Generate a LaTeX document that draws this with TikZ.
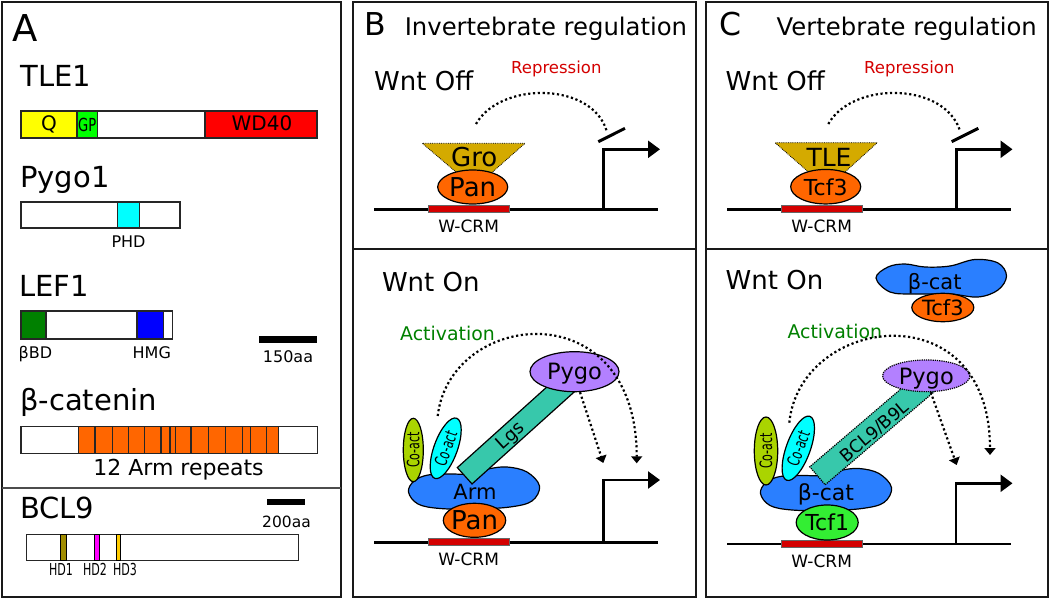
\documentclass[tikz,border=0pt]{standalone}
\usepackage{fontspec}
\setmainfont{DejaVu Sans}
\usetikzlibrary{positioning,arrows.meta,shapes.geometric}

\definecolor{qyellow}{HTML}{FFFF00}
\definecolor{gpgreen}{HTML}{00FF00}
\definecolor{wdred}{HTML}{FF0000}
\definecolor{phdcyan}{HTML}{00FFFF}
\definecolor{bbdgreen}{HTML}{008000}
\definecolor{hmgblue}{HTML}{0000FF}
\definecolor{armorange}{HTML}{FF6600}
\definecolor{hdolive}{HTML}{A08C00}
\definecolor{hdpink}{HTML}{FF00FF}
\definecolor{hdgold}{HTML}{FFCC00}
\definecolor{grogold}{HTML}{D4AA00}
\definecolor{crmred}{HTML}{D40000}
\definecolor{pygolilac}{HTML}{B380FF}
\definecolor{lgsteal}{HTML}{37C8AB}
\definecolor{coactlime}{HTML}{AAD400}
\definecolor{catblue}{HTML}{2A7FFF}
\definecolor{tcfgreen}{HTML}{33EE33}
\definecolor{repred}{HTML}{D40000}
\definecolor{actgreen}{HTML}{008000}

\newcommand{\fs}[1]{\fontsize{#1}{#1}\selectfont}
\newcommand{\squeezed}[2]{\scalebox{#1}[1]{#2}}

\begin{document}
\begin{tikzpicture}[x=1pt,y=-1pt,
    panel/.style={draw=black!90,line width=2pt},
    domainbar/.style={draw=black!85,line width=1.4pt},
    gene/.style={anchor=base west,inner sep=0pt,font=\fs{29}},
    tag/.style={anchor=base,inner sep=0pt,font=\fs{16}},
    paneltag/.style={anchor=base west,inner sep=0pt,font=\fs{31.5}},
    heading/.style={anchor=base west,inner sep=0pt,font=\fs{24.3}},
    wntstate/.style={anchor=base west,inner sep=0pt,font=\fs{26}},
    protein/.style={ellipse,draw=black,line width=1.2pt,inner sep=0pt},
    ptext/.style={inner sep=0pt,text depth=0pt},
    dna/.style={line width=2.5pt},
    crm/.style={fill=crmred,draw=black!60,line width=0.6pt,minimum width=80.7pt,minimum height=7pt,inner sep=0pt},
    crmlabel/.style={inner sep=0pt,font=\fs{17}},
    dotline/.style={line width=2.2pt,dash pattern=on 2.2pt off 2.6pt},
    actarrow/.style={dotline,-{Triangle[length=7pt,width=11pt]}},
    tss/.style={line width=2.5pt,-{Triangle[length=12pt,width=17pt]}},
    repbar/.style={line width=3pt},
    cofactor/.style={draw=black,line width=1.2pt,fill=lgsteal,rectangle,inner sep=0pt},
]
\useasboundingbox (0,0) rectangle (1050,599);

% panel frames
\draw[panel] (2,2) rectangle (341,597);
\draw[panel] (353,2) rectangle (696,597);
\draw[panel] (706,2) rectangle (1047.5,597);
\draw[panel] (353,248.5) -- (696,248.5);
\draw[panel] (706,248.5) -- (1047.5,248.5);
\draw[black!70,line width=1.2pt] (2,488) -- (341,488);

%%%% A: domain maps
\node[paneltag,font=\fs{37}] (labA) at (12.5,42) {A};

% TLE1
\node[gene] (tle1) at (20.5,87) {TLE1};
\fill[qyellow] (21,111) rectangle (77,138);
\fill[gpgreen] (77,111) rectangle (97.5,138);
\fill[wdred] (205,111) rectangle (317,138);
\draw[domainbar] (77,111) -- (77,138) (97.5,111) -- (97.5,138) (205,111) -- (205,138);
\draw[domainbar] (21,111) rectangle (317,138);
\node[anchor=base,inner sep=0pt,font=\fs{20}] (qdom) at (49,131) {Q};
\node[anchor=base,inner sep=0pt,font=\fs{18}] (gpdom) at (87.3,131.5) {\squeezed{0.73}{GP}};
\node[anchor=base,inner sep=0pt,font=\fs{20}] (wddom) at (262,131) {WD40};

% Pygo1
\node[gene] (pygo1) at (20,188) {Pygo1};
\fill[phdcyan] (117.7,202) rectangle (139.3,228);
\draw[domainbar] (117.7,202) -- (117.7,228) (139.3,202) -- (139.3,228);
\draw[domainbar] (21,202) rectangle (180,228);
\node[tag] (phd) at (128.5,247) {PHD};

% LEF1
\node[gene] (lef1) at (19,296.7) {LEF1};
\fill[bbdgreen] (21,311) rectangle (46,339);
\fill[hmgblue] (137,311) rectangle (163.3,339);
\draw[domainbar] (46,311) -- (46,339) (137,311) -- (137,339) (163.3,311) -- (163.3,339);
\draw[domainbar] (21,311) rectangle (172.7,339);
\node[tag] (bbd) at (35.5,358) {βBD};
\node[tag] (hmg) at (151.8,358) {HMG};
\fill (259,336) rectangle (317,343.3);
\node[tag] (scale150) at (288,362) {150aa};

% beta-catenin
\node[gene] (bcat) at (20,410) {β-catenin};
\fill[armorange] (78.3,426.7) rectangle (278.3,453.3);
\foreach \x in {78.3,95,112.3,128.7,144.7,161,170,175.3,191,208.3,225.7,242.3,250.7,266.7,278.3}
  \draw[black!85,line width=1.2pt] (\x,426.7) -- (\x,453.3);
\draw[domainbar] (21,426.7) rectangle (317.3,453.3);
\node[tag,font=\fs{22}] (armrep) at (178.5,475.5) {12 Arm repeats};

% BCL9
\node[gene] (bcl9) at (20,518.3) {BCL9};
\fill (266.7,499) rectangle (305,505);
\node[tag,font=\fs{15.5}] (scale200) at (286.5,527) {200aa};
\draw[domainbar] (26.7,534.3) rectangle (298.7,560.7);
\draw[fill=hdolive,line width=0.8pt] (60.7,534.3) rectangle (66.7,560.7);
\draw[fill=hdpink,line width=0.8pt] (94,534.3) rectangle (99.7,560.7);
\draw[fill=hdgold,line width=0.8pt] (116.7,534.3) rectangle (120,560.7);
\node[tag,font=\fs{16.5}] (hd1) at (61,575) {\squeezed{0.67}{HD1}};
\node[tag,font=\fs{16.5}] (hd2) at (95,575) {\squeezed{0.67}{HD2}};
\node[tag,font=\fs{16.5}] (hd3) at (125,575) {\squeezed{0.67}{HD3}};

%%%% B: invertebrate, Wnt off
\node[paneltag] (labB) at (364,36) {B};
\node[heading] (titleB) at (404.6,36) {Invertebrate regulation};
\node[wntstate] (offB) at (374,90.7) {Wnt Off};
\node[anchor=base west,inner sep=0pt,font=\fs{16.5},text=repred] (repB) at (511,74) {Repression};

\coordinate (dnaB1l) at (374.3,209.3);
\coordinate (dnaB1r) at (657.7,209.3);
\draw[dna] (dnaB1l) -- (dnaB1r);
\node[crm] (crmB1) at (468.65,209.2) {};
\node[crmlabel,below=7pt of crmB1] (crmB1t) {W-CRM};
\coordinate (tssB1) at (603.3,209.3);
\coordinate (tipB1) at (660,149.3);
\draw[tss] (tssB1) |- (tipB1);

\fill[grogold] (422.3,143.3) -- (525,143.3) -- (492.5,172) -- (456,172) -- cycle;
\draw[densely dotted,line width=0.8pt] (456,172) -- (422.3,143.3) -- (525,143.3) -- (492.5,172);
\node[anchor=base,inner sep=0pt,font=\fs{26}] (groB) at (474.2,166.5) {Gro};
\node[protein,fill=armorange,minimum width=70pt,minimum height=34pt] (panB1) at (472.7,187) {};
\node[ptext,font=\fs{26}] (panB1t) at (panB1) {Pan};

\coordinate (repB1s) at (476,124);
\coordinate (repB1e) at (606.7,131);
\draw[dotline] (repB1s) .. controls (500,81.5) and (592,81.5) .. (repB1e);
\coordinate (barB1a) at (598.3,141.7);
\coordinate (barB1b) at (625,128.3);
\draw[repbar] (barB1a) -- (barB1b);

%%%% B: invertebrate, Wnt on
\node[wntstate] (onB) at (381.8,291.7) {Wnt On};
\node[anchor=base west,inner sep=0pt,font=\fs{18.9},text=actgreen] (actB) at (400,340) {Activation};

\coordinate (dnaB2l) at (374.3,542.3);
\coordinate (dnaB2r) at (657.7,542.3);
\draw[dna] (dnaB2l) -- (dnaB2r);
\node[crm] (crmB2) at (468.65,542) {};
\node[crmlabel,below=7pt of crmB2] (crmB2t) {W-CRM};
\coordinate (tssB2) at (603.3,542.3);
\coordinate (tipB2) at (660,480);
\draw[tss] (tssB2) |- (tipB2);

\draw[fill=catblue,line width=1.2pt] plot[smooth cycle,tension=0.6] coordinates {
  (408.5,492) (414,481) (428,475) (450,474) (470,474) (488,469) (507,467)
  (527,472) (539.5,486) (532,501) (510,507) (475,509) (440,508.5) (418,504)};
\node[protein,fill=armorange,minimum width=62.4pt,minimum height=34pt] (panB2) at (474.5,520.3) {};
\node[ptext,font=\fs{26}] (panB2t) at (panB2) {Pan};
\node[protein,fill=coactlime,rotate=90,minimum width=63.4pt,minimum height=20pt,font=\fs{17}] (coactB1) at (413.3,450) {\squeezed{0.65}{Co-act}};
\node[protein,fill=phdcyan,rotate=70,minimum width=64pt,minimum height=23.4pt,font=\fs{17}] (coactB2) at (445.7,448.3) {\squeezed{0.65}{Co-act}};
\node[cofactor,rotate=42,minimum width=150pt,minimum height=22pt] (lgs) at (520.4,425.6) {};
\node[ptext,rotate=42,font=\fs{18}] (lgst) at (510,435) {Lgs};
\node[ptext,font=\fs{21}] (armt) at (475,492) {Arm};
\node[protein,fill=pygolilac,minimum width=89pt,minimum height=40pt] (pygoB) at (574.5,371.7) {};
\node[ptext,font=\fs{22.5}] (pygoBt) at (pygoB) {Pygo};

\coordinate (actB1s) at (437.7,416);
\coordinate (actB1e) at (636.7,463.3);
\draw[actarrow] (actB1s) .. controls (450,310) and (636.7,290) .. (actB1e);
\coordinate (actB2e) at (603.3,463);
\draw[actarrow] (pygoB.-75) -- (actB2e);

%%%% C: vertebrate, Wnt off
\node[paneltag] (labC) at (719,36) {C};
\node[heading] (titleC) at (776.5,36) {Vertebrate regulation};
\node[wntstate] (offC) at (725.5,90.7) {Wnt Off};
\node[anchor=base west,inner sep=0pt,font=\fs{16.5},text=repred] (repC) at (864,74) {Repression};

\coordinate (dnaC1l) at (727.3,209.3);
\coordinate (dnaC1r) at (1010.7,209.3);
\draw[dna] (dnaC1l) -- (dnaC1r);
\node[crm] (crmC1) at (821.65,209.2) {};
\node[crmlabel,below=7pt of crmC1] (crmC1t) {W-CRM};
\coordinate (tssC1) at (956.7,209.3);
\coordinate (tipC1) at (1012.5,149.3);
\draw[tss] (tssC1) |- (tipC1);

\fill[grogold] (775,142.7) -- (877.3,142.7) -- (845,172) -- (808.5,172) -- cycle;
\draw[densely dotted,line width=0.8pt] (808.5,172) -- (775,142.7) -- (877.3,142.7) -- (845,172);
\node[anchor=base,inner sep=0pt,font=\fs{25}] (tleC) at (829,166.7) {TLE};
\node[protein,fill=armorange,minimum width=70pt,minimum height=34.5pt] (tcf3C1) at (825.7,186.7) {};
\node[ptext,font=\fs{22}] (tcf3C1t) at (tcf3C1) {Tcf3};

\coordinate (repC1s) at (828.3,124);
\coordinate (repC1e) at (960,130.7);
\draw[dotline] (repC1s) .. controls (852,81.5) and (944,81.5) .. (repC1e);
\coordinate (barC1a) at (951.7,141.7);
\coordinate (barC1b) at (978.3,128.3);
\draw[repbar] (barC1a) -- (barC1b);

%%%% C: vertebrate, Wnt on
\node[wntstate] (onC) at (725.5,289.3) {Wnt On};
\node[anchor=base west,inner sep=0pt,font=\fs{18.9},text=actgreen] (actC) at (787.3,338.3) {Activation};

% free beta-cat/Tcf3 complex
\draw[fill=catblue,line width=1.2pt] plot[smooth cycle,tension=0.6] coordinates {
  (876,278) (888,267) (905,264) (925,267) (950,266) (975,259.5) (998,263)
  (1006.5,276) (998,290) (978,297) (950,294) (915,294) (890,292)};
\node[ptext,font=\fs{21}] (bcatCt) at (934.7,281) {β-cat};
\node[protein,fill=armorange,minimum width=62pt,minimum height=28.4pt] (tcf3C2) at (942.8,307.5) {};
\node[ptext,font=\fs{21}] (tcf3C2t) at (tcf3C2) {Tcf3};

\coordinate (dnaC2l) at (727.3,544);
\coordinate (dnaC2r) at (1010.7,544);
\draw[dna] (dnaC2l) -- (dnaC2r);
\node[crm] (crmC2) at (821.65,544.2) {};
\node[crmlabel,below=7pt of crmC2] (crmC2t) {W-CRM};
\coordinate (tssC2) at (956,544);
\coordinate (tipC2) at (1012.5,483.3);
\draw[tss] (tssC2) |- (tipC2);

\begin{scope}[xshift=352pt,yshift=-1.5pt]
  \draw[fill=catblue,line width=1.2pt] plot[smooth cycle,tension=0.6] coordinates {
    (408.5,492) (414,481) (428,475) (450,474) (470,474) (488,469) (507,467)
    (527,472) (539.5,486) (532,501) (510,507) (475,509) (440,508.5) (418,504)};
\end{scope}
\node[protein,fill=tcfgreen,minimum width=62pt,minimum height=35pt] (tcf1) at (827.2,522.5) {};
\node[ptext,font=\fs{22}] (tcf1t) at (tcf1) {Tcf1};
\node[protein,fill=coactlime,rotate=90,minimum width=68pt,minimum height=23.4pt,font=\fs{17}] (coactC1) at (766,451) {\squeezed{0.65}{Co-act}};
\node[protein,fill=phdcyan,rotate=70,minimum width=68pt,minimum height=24pt,font=\fs{17}] (coactC2) at (798.3,448.3) {\squeezed{0.65}{Co-act}};
\node[cofactor,densely dotted,rotate=40.5,minimum width=150pt,minimum height=23.7pt] (bcl9C) at (874.5,427.1) {};
\node[ptext,rotate=40.5,font=\fs{17.5}] (bcl9Ct) at (874,431) {BCL9/B9L};
\node[ptext,font=\fs{22}] (bcatC2t) at (826,492) {β-cat};
\node[protein,densely dotted,fill=pygolilac,minimum width=87.4pt,minimum height=31.7pt] (pygoC) at (926.3,375.8) {};
\node[ptext,font=\fs{22.5}] (pygoCt) at (pygoC) {Pygo};

\coordinate (actC1s) at (789.3,422.7);
\coordinate (actC1e) at (990,455);
\draw[actarrow] (actC1s) .. controls (800,315) and (990,290) .. (actC1e);
\coordinate (actC2e) at (956.7,465);
\draw[actarrow] (pygoC.-75) -- (actC2e);
\end{tikzpicture}
\end{document}
